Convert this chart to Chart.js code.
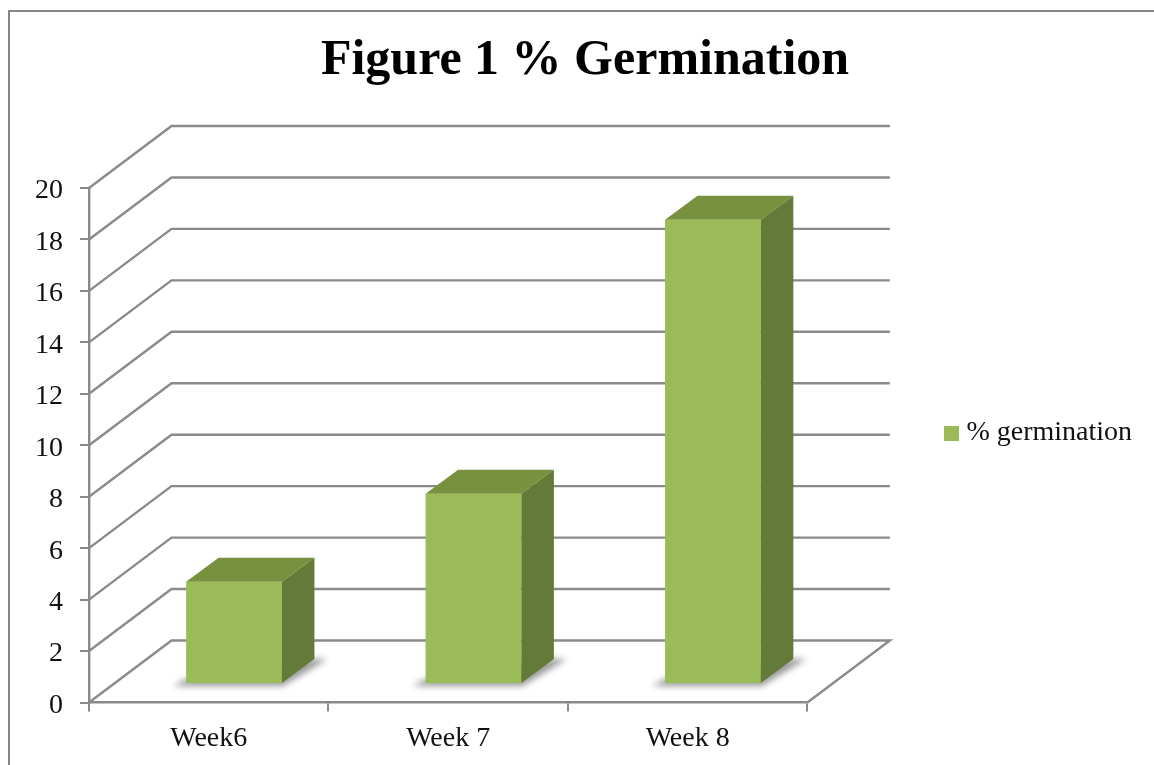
<!DOCTYPE html>
<html>
<head>
<meta charset="utf-8">
<style>
html,body{margin:0;padding:0;background:#fff;overflow:hidden}
#frame{position:absolute;left:8px;top:10px;width:1146px;height:755px;border-left:2px solid #868686;border-top:2px solid #868686;box-sizing:border-box}
canvas{position:absolute;left:0;top:0}
</style>
<script src="https://cdn.jsdelivr.net/npm/chart.js@4"></script>
</head>
<body>
<div id="frame"></div>
<canvas id="c" width="1154" height="765"></canvas>
<script>
const categories = ['Week6', 'Week 7', 'Week 8'];
const seriesName = '% germination';
const germination = [3.97, 7.4, 18.05];
const chartTitle = 'Figure 1 % Germination';

const FONT = '"Liberation Serif", serif';
const GRID = '#8a8a8a';
const WALL = { dx: 82.5, dy: -62 };
const BAR_SHIFT = { dx: 25.3, dy: -18.5 };
const BAR_DEPTH = { dx: 32.5, dy: -24 };
const LEGEND_DROP = 50.5;

const swatch = document.createElement('canvas');
swatch.width = 15; swatch.height = 15;
const sw = swatch.getContext('2d');
sw.fillStyle = '#9BBB59'; sw.fillRect(0, 0, 15, 15);

function poly(ctx, pts, fill) {
  ctx.beginPath();
  pts.forEach((p, i) => i ? ctx.lineTo(p[0], p[1]) : ctx.moveTo(p[0], p[1]));
  ctx.closePath();
  ctx.fillStyle = fill;
  ctx.fill();
}

const threeD = {
  id: 'threeD',
  afterLayout(chart) {
    chart.legend.top += LEGEND_DROP;
    chart.legend.bottom += LEGEND_DROP;
  },
  beforeDatasetsDraw(chart) {
    const { ctx, chartArea: a, scales: { y } } = chart;
    ctx.save();
    ctx.strokeStyle = GRID; ctx.lineWidth = 2.4; ctx.lineJoin = 'miter';
    y.ticks.forEach(t => {
      const py = y.getPixelForValue(t.value);
      ctx.beginPath();
      ctx.moveTo(a.left, py);
      ctx.lineTo(a.left + WALL.dx, py + WALL.dy);
      ctx.lineTo(a.right + WALL.dx, py + WALL.dy);
      if (t.value === 0) ctx.lineTo(a.right, py);
      ctx.stroke();
    });
    // soft floor shadows
    ctx.filter = 'blur(3px)';
    chart.getDatasetMeta(0).data.forEach(b => {
      const l = b.x - b.width / 2 + BAR_SHIFT.dx, r = b.x + b.width / 2 + BAR_SHIFT.dx, base = b.base + BAR_SHIFT.dy;
      poly(ctx, [[l - 13, base + 3], [r + 1, base + 3], [r + BAR_DEPTH.dx + 13, base + BAR_DEPTH.dy], [r + BAR_DEPTH.dx, base + BAR_DEPTH.dy], [l, base - 4]], '#9a9a9a');
    });
    ctx.filter = 'none';
    ctx.restore();
    ctx.save();
    ctx.translate(BAR_SHIFT.dx, BAR_SHIFT.dy);
  },
  afterDatasetsDraw(chart) {
    const { ctx } = chart;
    ctx.restore();
    ctx.save();
    chart.getDatasetMeta(0).data.forEach(b => {
      const l = b.x - b.width / 2 + BAR_SHIFT.dx, r = b.x + b.width / 2 + BAR_SHIFT.dx;
      const top = b.y + BAR_SHIFT.dy, base = b.base + BAR_SHIFT.dy;
      const d = BAR_DEPTH;
      poly(ctx, [[l, top], [r, top], [r + d.dx, top + d.dy], [l + d.dx, top + d.dy]], '#77913F');
      poly(ctx, [[r, top], [r + d.dx, top + d.dy], [r + d.dx, base + d.dy], [r, base]], '#647A38');
    });
    ctx.restore();
  }
};

new Chart(document.getElementById('c'), {
  type: 'bar',
  plugins: [threeD],
  data: {
    labels: categories,
    datasets: [{
      label: seriesName,
      data: germination,
      backgroundColor: '#9BBB59',
      borderWidth: 0,
      barPercentage: 0.4,
      categoryPercentage: 1,
      clip: false
    }]
  },
  options: {
    responsive: false,
    animation: false,
    events: [],
    layout: { autoPadding: false, padding: { left: 28, right: 12, top: 0, bottom: 0 } },
    plugins: {
      tooltip: { enabled: false },
      title: {
        display: true,
        text: chartTitle,
        color: '#000',
        font: { family: FONT, size: 50, weight: 'bold', lineHeight: 1.2 },
        padding: { top: 31, bottom: 97 }
      },
      legend: {
        position: 'right',
        maxWidth: 335,
        labels: {
          color: '#111',
          font: { family: FONT, size: 28 },
          usePointStyle: true,
          pointStyle: swatch,
          pointStyleWidth: 2,
          boxHeight: 15,
          padding: 143
        }
      }
    },
    scales: {
      x: {
        afterFit(s) { s.height = 62.5; },
        border: { color: GRID, width: 2.4 },
        grid: { drawOnChartArea: false, color: GRID, lineWidth: 2, tickLength: 9 },
        ticks: { color: '#111', font: { family: FONT, size: 28 }, padding: 10, maxRotation: 0 }
      },
      y: {
        min: 0, max: 20,
        afterFit(s) { s.width = 61; },
        border: { color: GRID, width: 2.4 },
        grid: { drawOnChartArea: false, color: GRID, lineWidth: 2, tickLength: 9 },
        ticks: { stepSize: 2, color: '#111', font: { family: FONT, size: 28 }, padding: 17, labelOffset: 3 }
      }
    }
  }
});
</script>
</body>
</html>
